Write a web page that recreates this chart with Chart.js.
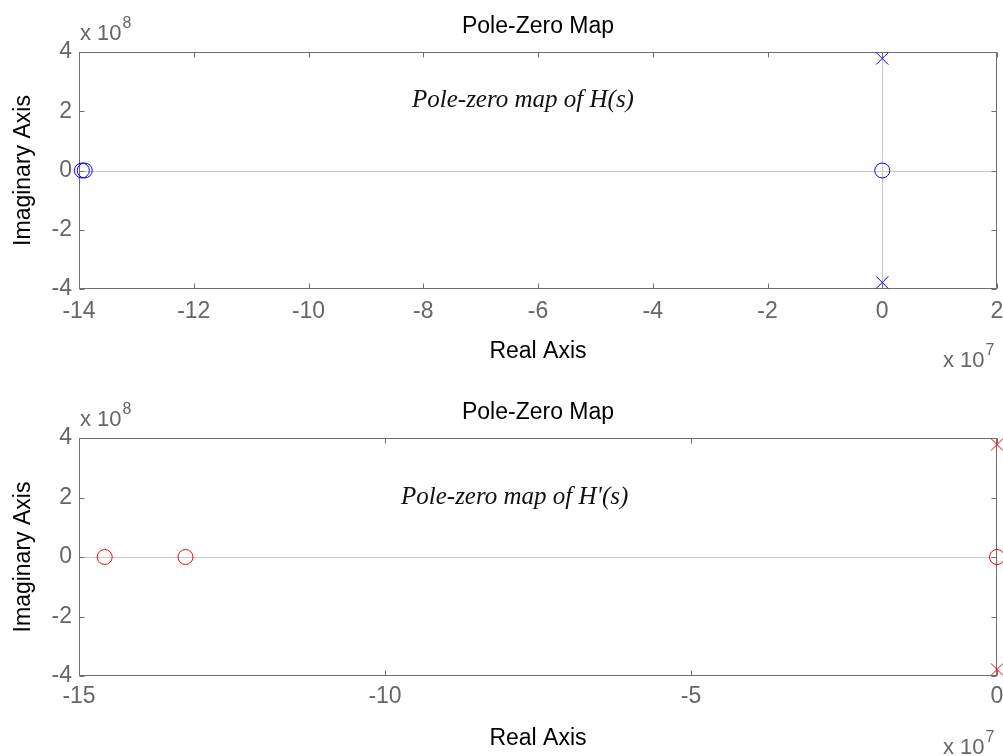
<!DOCTYPE html>
<html>
<head>
<meta charset="utf-8">
<script src="https://cdn.jsdelivr.net/npm/chart.js@4.4.1/dist/chart.umd.min.js"></script>
<style>
  html, body { margin: 0; padding: 0; background: #fff; }
  #wrap { position: relative; width: 1003px; height: 756px; overflow: hidden; }
  canvas { position: absolute; left: 0; }
</style>
</head>
<body>
<div id="wrap">
  <canvas id="pzTop" width="1003" height="378" style="top:0"></canvas>
  <canvas id="pzBottom" width="1003" height="378" style="top:378px"></canvas>
</div>
<script>
// Real parts are in units of 1e7, imaginary parts in units of 1e8.
// H(s)
const hZerosRe = [-13.95, -13.90, 0];
const hZerosIm = [0, 0, 0];
const hPolesRe = [0, 0];
const hPolesIm = [3.78, -3.78];
// H'(s)
const hpZerosRe = [-14.58, -13.26, 0];
const hpZerosIm = [0, 0, 0];
const hpPolesRe = [0, 0];
const hpPolesIm = [3.78, -3.78];

// Axis ticks
const topRealTicks = [-14, -12, -10, -8, -6, -4, -2, 0, 2];
const bottomRealTicks = [-15, -10, -5, 0];
const imagTicks = [-4, -2, 0, 2, 4];

const GRAY = '#666666';
const BOX = '#6e6e6e';
const SANS = '"Liberation Sans", Arial, sans-serif';
const SERIF = '"Liberation Serif", "Times New Roman", serif';

function pts(re, im) { return re.map((x, i) => ({ x, y: im[i] })); }

// Box, inward tick marks, zero lines and the text around each axes
const pzFrame = {
  id: 'pzFrame',
  beforeDatasetsDraw(chart, args, o) {
    const { ctx, chartArea: a, scales: { x, y } } = chart;
    ctx.save();
    ctx.lineWidth = 1;
    // light zero lines
    ctx.strokeStyle = '#c8c8c8';
    const y0 = Math.round(y.getPixelForValue(0)) + 0.5;
    ctx.beginPath(); ctx.moveTo(a.left, y0); ctx.lineTo(a.right, y0); ctx.stroke();
    const x0 = Math.round(x.getPixelForValue(0)) + 0.5;
    if (x0 > a.left + 1 && x0 < a.right - 1) {
      ctx.beginPath(); ctx.moveTo(x0, a.top); ctx.lineTo(x0, a.bottom); ctx.stroke();
    }
    // box
    ctx.strokeStyle = BOX;
    const L = Math.round(a.left) + 0.5, R = Math.round(a.right) - 0.5;
    const T = Math.round(a.top) + 0.5, B = Math.round(a.bottom) - 0.5;
    ctx.strokeRect(L, T, R - L, B - T);
    // inward ticks on all four sides
    const tl = 5;
    ctx.beginPath();
    x.ticks.forEach(t => {
      const px = Math.round(x.getPixelForValue(t.value)) + 0.5;
      ctx.moveTo(px, B); ctx.lineTo(px, B - tl);
      ctx.moveTo(px, T); ctx.lineTo(px, T + tl);
    });
    y.ticks.forEach(t => {
      const py = Math.round(y.getPixelForValue(t.value)) + 0.5;
      ctx.moveTo(L, py); ctx.lineTo(L + tl, py);
      ctx.moveTo(R, py); ctx.lineTo(R - tl, py);
    });
    ctx.stroke();
    ctx.restore();
  },
  afterDraw(chart, args, o) {
    const { ctx, chartArea: a } = chart;
    const cx = (a.left + a.right) / 2;
    ctx.save();
    ctx.textBaseline = 'alphabetic';
    // title
    ctx.fillStyle = '#000';
    ctx.font = '23px ' + SANS;
    ctx.textAlign = 'center';
    ctx.fillText(o.title, cx, a.top - 19);
    // real axis label
    ctx.fillText('Real Axis', cx, a.bottom + 69);
    // imaginary axis label
    ctx.save();
    ctx.translate(30, (a.top + a.bottom) / 2);
    ctx.rotate(-Math.PI / 2);
    ctx.fillText('Imaginary Axis', 0, 0);
    ctx.restore();
    // exponent labels
    const expo = (left, base, p) => {
      ctx.fillStyle = GRAY;
      ctx.textAlign = 'left';
      ctx.font = '22px ' + SANS;
      ctx.fillText('x 10', left, base);
      const w = ctx.measureText('x 10').width;
      ctx.font = '16px ' + SANS;
      ctx.fillText(p, left + w + 1, base - 12);
    };
    expo(a.left + 1, a.top - 12, '8');
    expo(943, a.bottom + 78, '7');
    // italic annotation
    ctx.fillStyle = '#111';
    ctx.textAlign = 'left';
    ctx.font = 'italic 25px ' + SERIF;
    ctx.fillText(o.note, o.noteX, o.noteY);
    ctx.restore();
  }
};

function makeChart(id, cfg) {
  const tickFont = { family: SANS, size: 23 };
  return new Chart(document.getElementById(id), {
    type: 'scatter',
    data: {
      datasets: [
        {
          label: 'zeros', data: pts(cfg.zRe, cfg.zIm),
          pointStyle: 'circle', pointRadius: 7.5, pointBorderWidth: 1,
          borderColor: cfg.color, backgroundColor: 'rgba(0,0,0,0)',
          pointBackgroundColor: 'rgba(0,0,0,0)', pointBorderColor: cfg.color,
          clip: false
        },
        {
          label: 'poles', data: pts(cfg.pRe, cfg.pIm),
          pointStyle: 'crossRot', pointRadius: 8.5, pointBorderWidth: 1,
          borderColor: cfg.color, pointBorderColor: cfg.color,
          pointBackgroundColor: cfg.color, backgroundColor: cfg.color,
          clip: false
        }
      ]
    },
    options: {
      responsive: false,
      animation: false,
      devicePixelRatio: 1,
      events: [],
      layout: { autoPadding: false, padding: { top: cfg.top, right: 6, left: 0, bottom: 0 } },
      plugins: {
        legend: { display: false },
        tooltip: { enabled: false },
        pzFrame: { title: 'Pole-Zero Map', note: cfg.note, noteX: cfg.noteX, noteY: cfg.noteY }
      },
      scales: {
        x: {
          type: 'linear', min: cfg.xMin, max: cfg.xMax,
          grid: { display: false, drawTicks: false },
          border: { display: false },
          ticks: { color: GRAY, font: tickFont, padding: cfg.xPad, maxRotation: 0, autoSkip: false },
          afterBuildTicks: s => { s.ticks = cfg.xTicks.map(v => ({ value: v })); },
          afterFit: s => {
            s.height = cfg.xH;
            s.paddingLeft = 0; s.paddingRight = 0;
          }
        },
        y: {
          type: 'linear', min: -4, max: 4,
          grid: { display: false, drawTicks: false },
          border: { display: false },
          ticks: { color: GRAY, font: tickFont, padding: 7, autoSkip: false },
          afterBuildTicks: s => { s.ticks = imagTicks.map(v => ({ value: v })); },
          afterFit: s => {
            s.width = 79;
            s.paddingTop = 0; s.paddingBottom = 0;
          }
        }
      }
    },
    plugins: [pzFrame]
  });
}

makeChart('pzTop', {
  zRe: hZerosRe, zIm: hZerosIm, pRe: hPolesRe, pIm: hPolesIm,
  color: '#0000ff', xMin: -14, xMax: 2, xTicks: topRealTicks,
  top: 52, xH: 89, xPad: 9,
  note: 'Pole-zero map of H(s)', noteX: 412, noteY: 107
});

makeChart('pzBottom', {
  zRe: hpZerosRe, zIm: hpZerosIm, pRe: hpPolesRe, pIm: hpPolesIm,
  color: '#ff0000', xMin: -15, xMax: 0, xTicks: bottomRealTicks,
  top: 60, xH: 80, xPad: 7,
  note: "Pole-zero map of H'(s)", noteX: 401, noteY: 126
});
</script>
</body>
</html>
